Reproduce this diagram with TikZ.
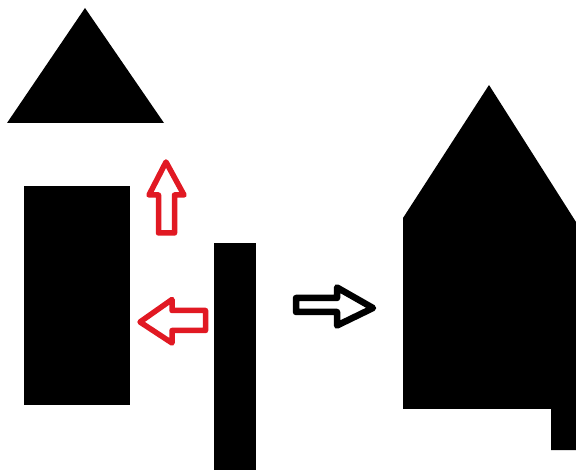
\documentclass[tikz,border=0pt]{standalone}
\begin{document}
\begin{tikzpicture}[x=1pt,y=-1pt,
  solid/.style={fill=black,draw=none},
  redarrow/.style={draw={rgb,255:red,225;green,25;blue,35},line width=5.5pt,line join=round},
  blackarrow/.style={draw=black,line width=6.5pt,line join=round}]
\useasboundingbox[fill=white] (0,0) rectangle (576,470);
\fill[solid] (7,123) -- (85,8) -- (164,123) -- cycle;
\fill[solid] (24,186) rectangle (130,405);
\fill[solid] (214,243) rectangle (256,470);
\fill[solid] (403,218) -- (489,85) -- (576,222) -- (576,450) -- (551,450) -- (551,409) -- (403,409) -- cycle;
\draw[redarrow] (166,162) -- (149,195) -- (158.5,195) -- (158.5,233) -- (174.5,233) -- (174.5,195) -- (184,195) -- cycle;
\draw[redarrow] (140,322) -- (172,299.5) -- (172,310.5) -- (205.5,310.5) -- (205.5,330.5) -- (172,330.5) -- (172,343) -- cycle;
\draw[blackarrow] (373,308) -- (337,287.5) -- (337,298) -- (296,298) -- (296,312) -- (337,312) -- (337,325.5) -- cycle;
\end{tikzpicture}
\end{document}
